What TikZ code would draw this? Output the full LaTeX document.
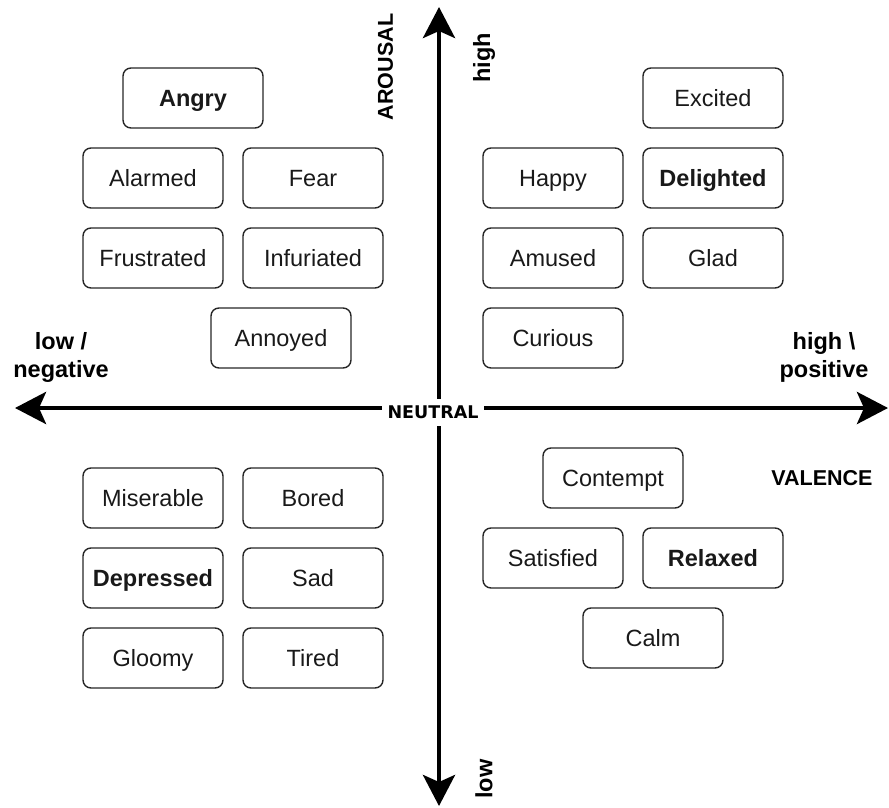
\documentclass[tikz,border=0pt]{standalone}
\usepackage{fontspec}
\setmainfont{Liberation Sans}
\newfontfamily\neutralfont{DejaVu Sans}
\usetikzlibrary{arrows.meta}
\tikzset{
  emo/.style={draw=black!85, line width=1.4pt, rounded corners=8pt, minimum width=140pt, minimum height=60pt, inner sep=0pt, text height=22pt, text depth=5pt, font=\fontsize{23.5}{28}\selectfont, text=black!90},
  emob/.style={emo, font=\fontsize{23.5}{28}\selectfont\bfseries},
  axis/.style={line width=4.5pt, {Stealth[length=31pt,width=32pt,inset=7pt]}-{Stealth[length=31pt,width=32pt,inset=7pt]}},
  lbl/.style={font=\fontsize{23.5}{28}\selectfont\bfseries, inner sep=0pt, align=center},
  axlbl/.style={font=\fontsize{21.5}{26}\selectfont\bfseries, inner sep=0pt}
}
\begin{document}
\begin{tikzpicture}[x=1pt,y=-1pt]
\useasboundingbox (0,0) rectangle (889,808);
% axes
\coordinate (vtop) at (439,7);
\coordinate (vbot) at (439,806);
\coordinate (hleft) at (15,408);
\coordinate (hright) at (888,408);
\draw[axis] (vbot) -- (vtop);
\draw[axis] (hleft) -- (hright);
\node[fill=white, minimum width=102pt, minimum height=27pt, inner sep=0pt, font=\neutralfont\fontsize{17.5}{20}\selectfont\bfseries] (neutral) at (433,412) {NEUTRAL};
% axis labels
\node[axlbl, rotate=90] (arousal) at (385.5,67) {AROUSAL};
\node[lbl, rotate=90] (high) at (484,58) {high};
\node[lbl, rotate=90] (low) at (484,779) {low};
\node[lbl] (neg) at (61,357) {low /\\negative};
\node[lbl] (pos) at (824,357) {high \textbackslash\\positive};
\node[axlbl] (valence) at (822,478) {VALENCE};
% top-left
\node[emob] (angry) at (193,98) {Angry};
\node[emo] (alarmed) at (153,178) {Alarmed};
\node[emo] (fear) at (313,178) {Fear};
\node[emo] (frustrated) at (153,258) {Frustrated};
\node[emo] (infuriated) at (313,258) {Infuriated};
\node[emo] (annoyed) at (281,338) {Annoyed};
% top-right
\node[emo] (excited) at (713,98) {Excited};
\node[emo] (happy) at (553,178) {Happy};
\node[emob] (delighted) at (713,178) {Delighted};
\node[emo] (amused) at (553,258) {Amused};
\node[emo] (glad) at (713,258) {Glad};
\node[emo] (curious) at (553,338) {Curious};
% bottom-left
\node[emo] (miserable) at (153,498) {Miserable};
\node[emo] (bored) at (313,498) {Bored};
\node[emob] (depressed) at (153,578) {Depressed};
\node[emo] (sad) at (313,578) {Sad};
\node[emo] (gloomy) at (153,658) {Gloomy};
\node[emo] (tired) at (313,658) {Tired};
% bottom-right
\node[emo] (contempt) at (613,478) {Contempt};
\node[emo] (satisfied) at (553,558) {Satisfied};
\node[emob] (relaxed) at (713,558) {Relaxed};
\node[emo] (calm) at (653,638) {Calm};
\end{tikzpicture}
\end{document}
